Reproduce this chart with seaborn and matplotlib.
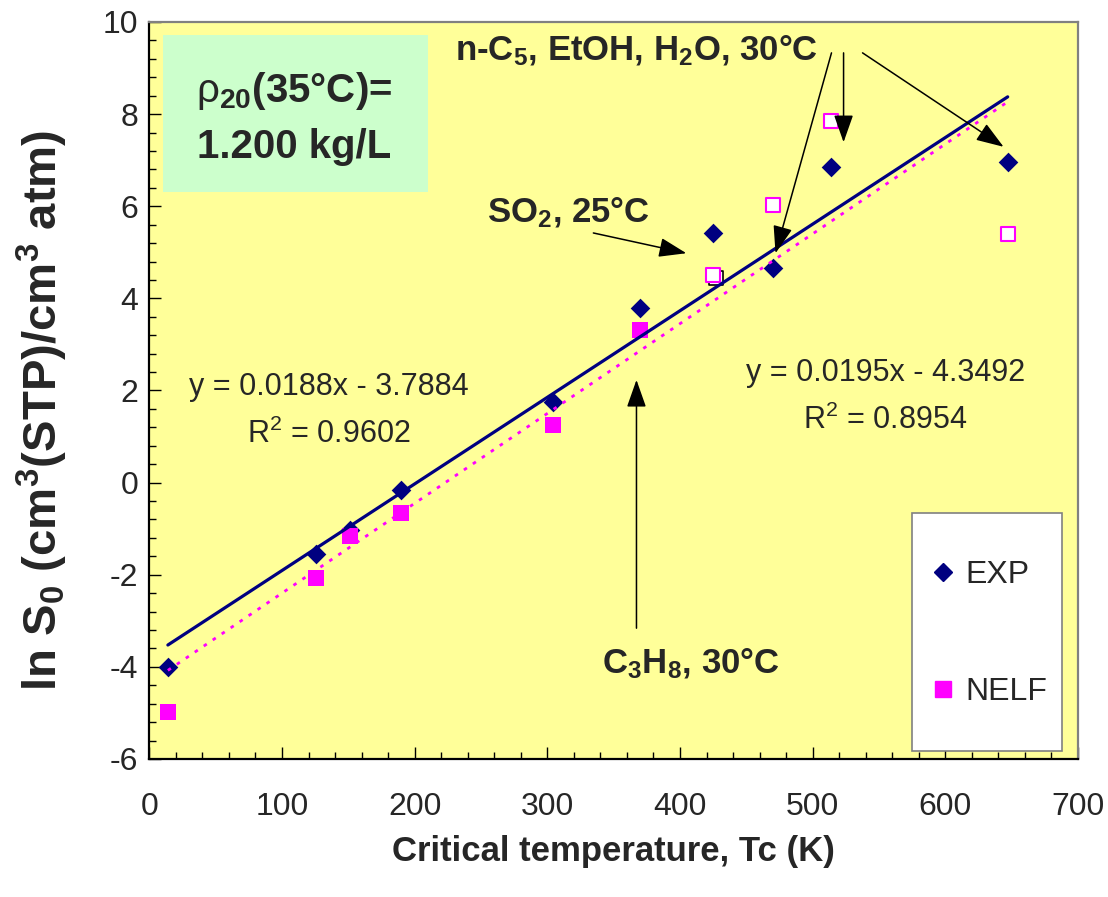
import numpy as np
import matplotlib
matplotlib.use("Agg")
import matplotlib.pyplot as plt
import seaborn as sns
from matplotlib.lines import Line2D
from matplotlib.patches import Rectangle
from matplotlib.ticker import MultipleLocator

# Critical temperature of each penetrant (K)
tc = [14, 126, 151, 190, 304, 370, 425, 470, 514, 647]
# Infinite-dilution solubility, experimental
ln_s0_exp = [-4.01, -1.56, -1.03, -0.16, 1.75, 3.79, 5.42, 4.66, 6.85, 6.96]
# Infinite-dilution solubility, NELF model
ln_s0_nelf = [-4.98, -2.07, -1.15, -0.67, 1.25, 3.31, 4.51, 6.03, 7.84, 5.39]
# NELF points of the vapours (SO2, n-C5, EtOH, H2O) are shown hollow
nelf_hollow = [False, False, False, False, False, False, True, True, True, True]
# second SO2 estimate (black outline)
so2_alt_tc = [427]
so2_alt_ln = [4.44]

# Linear trendlines: slope, intercept, R^2
fit_exp = (0.0188, -3.7884, 0.9602)
fit_nelf = (0.0195, -4.3492, 0.8954)

x_ticks = [0, 100, 200, 300, 400, 500, 600, 700]
y_ticks = [-6, -4, -2, 0, 2, 4, 6, 8, 10]

NAVY = "#000080"
MAGENTA = "#FF00FF"

sns.set_style("ticks")
plt.rcParams.update({
    "font.family": ["Liberation Sans", "DejaVu Sans"],
    "mathtext.fontset": "custom",
    "mathtext.rm": "Liberation Sans",
    "mathtext.it": "Liberation Sans:italic",
    "mathtext.bf": "Liberation Sans:bold",
    "axes.unicode_minus": False,
})

W, H = 1108, 897
fig = plt.figure(figsize=(W / 100, H / 100), dpi=100)
fig.patch.set_facecolor("white")
ax = fig.add_axes([149.3 / W, (H - 759) / H, 928.7 / W, 737 / H])
ax.set_facecolor("#FFFF99")

# --- markers ---
tc_arr = np.array(tc)
nelf_arr = np.array(ln_s0_nelf)
hollow = np.array(nelf_hollow)

sns.scatterplot(x=tc, y=ln_s0_exp, marker="D", s=100, color=NAVY,
                edgecolor=NAVY, linewidth=0, ax=ax, legend=False, zorder=3)
sns.scatterplot(x=tc_arr[~hollow], y=nelf_arr[~hollow], marker="s", s=140,
                color=MAGENTA, edgecolor=MAGENTA, linewidth=0, ax=ax,
                legend=False, zorder=3)
sns.scatterplot(x=so2_alt_tc, y=so2_alt_ln, marker="s", s=108,
                facecolor="white", edgecolor="black", linewidth=1.2, ax=ax,
                legend=False, zorder=2.9)
sns.scatterplot(x=tc_arr[hollow], y=nelf_arr[hollow], marker="s", s=108,
                facecolor="white", edgecolor=MAGENTA, linewidth=1.5, ax=ax,
                legend=False, zorder=3)

# --- trendlines drawn from the stated equations ---
x_span = np.array([min(tc), max(tc)])
sns.lineplot(x=x_span, y=fit_exp[0] * x_span + fit_exp[1], color=NAVY,
             linewidth=2.3, ax=ax, zorder=4)
sns.lineplot(x=x_span, y=fit_nelf[0] * x_span + fit_nelf[1], color=MAGENTA,
             linewidth=2.0, linestyle=(0, (1.3, 2.6)), ax=ax, zorder=4)

# --- axes ---
ax.set_xlim(0, 700)
ax.set_ylim(-6, 10)
ax.set_xticks(x_ticks)
ax.set_yticks(y_ticks)
ax.xaxis.set_minor_locator(MultipleLocator(20))
ax.yaxis.set_minor_locator(MultipleLocator(0.4))
ax.tick_params(which="major", direction="in", length=8.5, width=1.0,
               color="black", labelsize=23)
ax.tick_params(which="minor", direction="in", length=4.8, width=1.0,
               color="black")
ax.tick_params(axis="x", which="major", pad=24)
ax.tick_params(axis="y", which="major", pad=8)

for side in ("left", "bottom"):
    ax.spines[side].set_color("black")
    ax.spines[side].set_linewidth(1.6)
for side in ("top", "right"):
    ax.spines[side].set_visible(True)
    ax.spines[side].set_color("#808080")
    ax.spines[side].set_linewidth(1.6)

ax.set_xlabel("Critical temperature, Tc (K)", fontsize=25, fontweight="bold")
ax.xaxis.set_label_coords(0.5, (759 - 851) / 737)
ax.xaxis.label.set_va("center")
ax.set_ylabel(r"ln S$_{\mathbf{0}}$ (cm$^{\mathbf{3}}$(STP)/cm$^{\mathbf{3}}$ atm)",
              fontsize=34, fontweight="bold")
ax.yaxis.set_label_coords((42 - 149.3) / 928.7, (759 - 410) / 737)
ax.yaxis.label.set_va("center")

# --- density box ---
ax.add_patch(Rectangle((0.01475, 0.7693), 0.2853, 0.2130, transform=ax.transAxes,
                       facecolor="#CCFFCC", edgecolor="none", zorder=5))
ax.text(0.1558, 0.8915, r"$\mathrm{\rho}_{\mathbf{20}}$(35°C)=", transform=ax.transAxes,
        ha="center", va="baseline", fontsize=29, fontweight="bold", zorder=6)
ax.text(0.1558, 0.8155, "1.200 kg/L", transform=ax.transAxes,
        ha="center", va="baseline", fontsize=29, fontweight="bold", zorder=6)

# --- trendline equations ---
ax.text(135.5, 1.90, f"y = {fit_exp[0]:.4f}x - {abs(fit_exp[1]):.4f}",
        ha="center", va="baseline", fontsize=22, zorder=6)
ax.text(135.5, 0.86, f"R$^2$ = {fit_exp[2]:.4f}",
        ha="center", va="baseline", fontsize=22, zorder=6)
ax.text(555, 2.21, f"y = {fit_nelf[0]:.4f}x - {abs(fit_nelf[1]):.4f}",
        ha="center", va="baseline", fontsize=22, zorder=6)
ax.text(555, 1.16, f"R$^2$ = {fit_nelf[2]:.4f}",
        ha="center", va="baseline", fontsize=22, zorder=6)

# --- penetrant labels and arrows ---
ax.text(230.6, 9.175, r"n-C$_{\mathbf{5}}$, EtOH, H$_{\mathbf{2}}$O, 30°C",
        ha="left", va="baseline", fontsize=25, fontweight="bold", zorder=6)
ax.text(254.7, 5.66, r"SO$_{\mathbf{2}}$, 25°C",
        ha="left", va="baseline", fontsize=25, fontweight="bold", zorder=6)
ax.text(341.5, -4.13, r"C$_{\mathbf{3}}$H$_{\mathbf{8}}$, 30°C",
        ha="left", va="baseline", fontsize=25, fontweight="bold", zorder=6)

arrow_kw = dict(arrowstyle="-|>,head_length=0.85,head_width=0.3",
                mutation_scale=20, color="black", lw=1.1,
                shrinkA=0, shrinkB=0)
arrows = [
    ((334.7, 5.42), (404.8, 4.98)),
    ((367.2, -3.16), (367.2, 2.23)),
    ((514.2, 9.33), (472.0, 4.98)),
    ((523.3, 9.33), (523.3, 7.39)),
    ((537.6, 9.33), (643.9, 7.29)),
]
for start, tip in arrows:
    ax.annotate("", xy=tip, xytext=start, arrowprops=arrow_kw, zorder=6)

# --- legend ---
ax.add_patch(Rectangle((0.8212, 0.0109), 0.1615, 0.323, transform=ax.transAxes,
                       facecolor="white", edgecolor="#808080", linewidth=1.2,
                       zorder=7))
handles = [
    Line2D([], [], marker="D", linestyle="", color=NAVY, markersize=9.6),
    Line2D([], [], marker="s", linestyle="", color=MAGENTA, markersize=12),
]
leg = ax.legend(handles, ["EXP", "NELF"], loc="center left",
                bbox_to_anchor=(0.8374, 0.1703), frameon=False, fontsize=23,
                handlelength=1.0, handletextpad=0.19, labelspacing=2.72,
                borderpad=0, borderaxespad=0)
leg.set_zorder(8)

fig.savefig("out.png", dpi=100)
